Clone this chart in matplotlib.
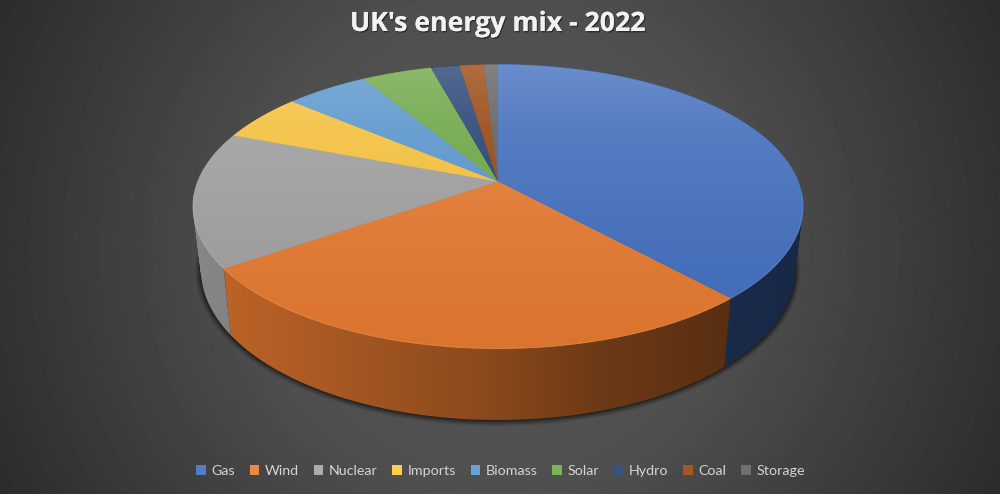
import numpy as np
import matplotlib
matplotlib.use("Agg")
import matplotlib.pyplot as plt
from matplotlib.patches import Polygon, Patch, PathPatch
from matplotlib.path import Path
import matplotlib.patheffects as pe

# ---- data ----
categories = ["Gas", "Wind", "Nuclear", "Imports", "Biomass", "Solar", "Hydro", "Coal", "Storage"]
shares = [38.2, 27.1, 15.4, 5.4, 5.2, 4.4, 1.8, 1.5, 0.9]
colors = ["#4472C4", "#ED7D31", "#A5A5A5", "#FFC83D", "#5B9BD5", "#70AD47", "#264478", "#9E480E", "#636363"]
title = "UK's energy mix - 2022"

# ---- projection of the tilted disc (perspective), figure pixels ----
W, H = 1000, 494
CX, CY = 498.0, 181.5
A, B, K = 300.2, 137.6, 0.176
BOT_SX, BOT_SY, BOT_CY = 0.974, 1.06, 243.0


def top_xy(theta):
    """theta clockwise from 12 o'clock, radians -> offsets from the apex."""
    u, v = np.sin(theta), np.cos(theta)
    w = 1 + K * v
    return A * u / w, -B * v / w


def top_pts(theta):
    x, y = top_xy(theta)
    return np.column_stack([CX + x, CY + y])


def bot_pts(theta, grow=0.0):
    x, y = top_xy(theta)
    return np.column_stack([CX + BOT_SX * x * (1 + grow / 300), BOT_CY + BOT_SY * y * (1 + grow / 170)])


def wall_path(theta):
    """The wall as many small quads, all wound the same way, so that the
    part beyond the silhouette does not cancel out when it is filled."""
    a, b = top_pts(theta), bot_pts(theta)
    verts, codes = [], []
    for j in range(len(theta) - 1):
        q = np.array([a[j], a[j + 1], b[j + 1], b[j]])
        x, y = q[:, 0], q[:, 1]
        if np.dot(x, np.roll(y, -1)) - np.dot(y, np.roll(x, -1)) < 0:
            q = q[::-1]
        verts += list(q) + [q[0]]
        codes += [Path.MOVETO, Path.LINETO, Path.LINETO, Path.LINETO, Path.CLOSEPOLY]
    return Path(np.array(verts), codes)


fig = plt.figure(figsize=(W / 100, H / 100), dpi=100)
ax = fig.add_axes([0, 0, 1, 1])
ax.set_xlim(0, W)
ax.set_ylim(H, 0)
ax.axis("off")

yy, xx = np.mgrid[0:H, 0:W]
yy = yy + 0.5
xx = xx + 0.5

# background
r = np.hypot(xx - 500, yy - 247) / np.hypot(500, 247)
bg = np.interp(r, [0.0, 0.44, 0.57, 1.0], [0x58, 0x4F, 0x47, 0x2C]) / 255
ax.imshow(bg, cmap="gray", vmin=0, vmax=1, extent=(0, W, H, 0), aspect="auto", zorder=0, interpolation="bilinear")

full = np.linspace(0, 2 * np.pi, 361)
for g, al in zip([6, 5, 4, 3, 2, 1], [0.05, 0.07, 0.10, 0.13, 0.16, 0.2]):
    ax.add_patch(Polygon(bot_pts(full, g), closed=True, fc="black", ec="none", alpha=al, zorder=1))


def rgb(c):
    return np.array(matplotlib.colors.to_rgb(c))


def side_image(base):
    f = np.interp(xx, [193, 480, 600, 720, 803], [0.82, 0.59, 0.46, 0.38, 0.36])
    return np.clip(rgb(base)[None, None, :] * f[..., None], 0, 1)


def top_image(base):
    w = np.interp(yy, [65, 130, 220, 350], [0.22, 0.12, 0.06, 0.0])[..., None]
    m = np.interp(yy, [65, 350], [0.97, 0.92])[..., None]
    return np.clip((rgb(base) * (1 - w) + w) * m, 0, 1)


edges = np.radians(np.cumsum([0] + shares) / sum(shares) * 360)

# side walls
for i, c in enumerate(colors):
    t = np.linspace(edges[i], edges[i + 1], 120)
    poly = PathPatch(wall_path(t), transform=ax.transData, fc="none", ec="none")
    ax.add_patch(poly)
    im = ax.imshow(side_image(c), extent=(0, W, H, 0), aspect="auto", zorder=2 + i * 0.01, interpolation="bilinear")
    im.set_clip_path(poly)

# top faces
for i, c in enumerate(colors):
    t = np.linspace(edges[i], edges[i + 1], 200)
    pts = np.vstack([[CX, CY], top_pts(t)])
    under = Polygon(pts, closed=True, fc=rgb(c) * 0.95, ec=rgb(c) * 0.95, lw=0.5, zorder=2.9)
    ax.add_patch(under)
    poly = Polygon(pts, closed=True, transform=ax.transData, fc="none", ec="none")
    ax.add_patch(poly)
    im = ax.imshow(top_image(c), extent=(0, W, H, 0), aspect="auto", zorder=3 + i * 0.01, interpolation="bilinear")
    im.set_clip_path(poly)

# soft rim on the front edge
t = np.linspace(np.radians(95), np.radians(265), 200)
p = top_pts(t)
ax.plot(p[:, 0], p[:, 1], color="white", alpha=0.10, lw=1.0, zorder=4)

shadow = [pe.withSimplePatchShadow(offset=(0.8, -1.0), shadow_rgbFace="black", alpha=0.45), pe.Normal()]
ax.text(497.5, 24, title, ha="center", va="center", fontsize=19.2, family="Open Sans", fontweight="bold",
        color="#F2F2F2", zorder=6, path_effects=shadow)

handle_colors = [rgb(c) * 0.92 + 0.08 for c in colors]
handles = [Patch(fc=c, ec="none", label=n) for c, n in zip(handle_colors, categories)]
leg = ax.legend(handles=handles, ncol=9, loc="center", bbox_to_anchor=(500.5 / W, 1 - 471 / H),
                bbox_transform=fig.transFigure, frameon=False,
                handlelength=0.66, handleheight=0.66, handletextpad=0.4, columnspacing=1.03,
                labelcolor="#D4D4D4", prop={"family": "Lato", "size": 10.3})
leg.set_zorder(6)

fig.savefig("out.png", dpi=100)
